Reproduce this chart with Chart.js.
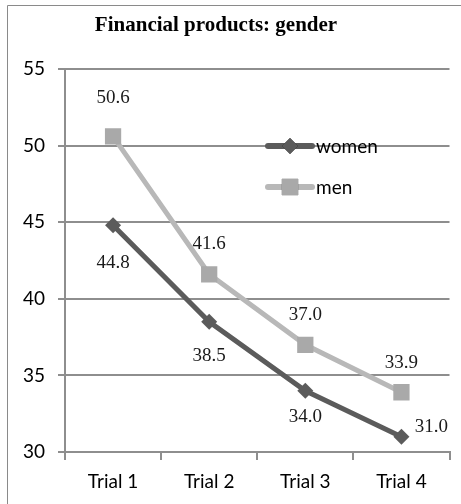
<!DOCTYPE html>
<html>
<head>
<meta charset="utf-8">
<script src="https://cdn.jsdelivr.net/npm/chart.js@4"></script>
<style>
html,body{margin:0;padding:0;background:#fff;}
#wrap{position:relative;width:461px;height:504px;}
</style>
</head>
<body>
<div id="wrap"><canvas id="c" width="461" height="504"></canvas></div>
<script>
const titleText = "Financial products: gender";
const categories = ["Trial 1", "Trial 2", "Trial 3", "Trial 4"];
const seriesNames = ["women", "men"];
const womenValues = [44.8, 38.5, 34.0, 31.0];
const menValues = [50.6, 41.6, 37.0, 33.9];
const yTicks = [30, 35, 40, 45, 50, 55];

const SANS = "Lato, 'Open Sans', sans-serif";
const SERIF = "'Liberation Serif', 'Times New Roman', serif";

// label offsets (presentation only)
const labelOffsets = {
  0: [[0, 38], [0, 34], [0, 26], [30, -10]],
  1: [[0, -38], [0, -30], [0, -30], [0, -29]]
};

const decor = {
  id: 'decor',
  beforeDraw(chart) {
    const ctx = chart.ctx;
    ctx.save();
    ctx.strokeStyle = '#8a8a8a';
    ctx.lineWidth = 1;
    ctx.beginPath();
    ctx.moveTo(7.5, 504);
    ctx.lineTo(7.5, 5.5);
    ctx.lineTo(461, 5.5);
    ctx.stroke();
    ctx.fillStyle = '#000';
    ctx.font = "bold 21px " + SERIF;
    ctx.textAlign = 'center';
    ctx.textBaseline = 'middle';
    ctx.fillText(titleText, 216, 26);
    ctx.restore();
  },
  afterDatasetsDraw(chart) {
    const ctx = chart.ctx;
    ctx.save();
    // data labels
    ctx.font = "19px " + SERIF;
    ctx.fillStyle = '#1a1a1a';
    ctx.textAlign = 'center';
    ctx.textBaseline = 'middle';
    chart.data.datasets.forEach((ds, di) => {
      const meta = chart.getDatasetMeta(di);
      meta.data.forEach((pt, i) => {
        const off = labelOffsets[di][i];
        ctx.fillText(ds.data[i].toFixed(1), pt.x + off[0], pt.y + off[1]);
      });
    });
    // legend
    const lx0 = 268, lx1 = 312, mx = 290;
    const ly = [146, 187];
    chart.data.datasets.forEach((ds, di) => {
      const y = ly[di];
      ctx.strokeStyle = ds.borderColor;
      ctx.lineWidth = 6;
      ctx.lineCap = 'round';
      ctx.beginPath();
      ctx.moveTo(lx0, y);
      ctx.lineTo(lx1, y);
      ctx.stroke();
      Chart.helpers.drawPoint(ctx, {
        pointStyle: ds.pointStyle,
        radius: ds.pointRadius,
        borderWidth: 0
      }, mx, y);
      ctx.fillStyle = ds.pointBackgroundColor;
      ctx.fill();
      ctx.fillStyle = '#000';
      ctx.font = "19px " + SANS;
      ctx.textAlign = 'left';
      ctx.fillText(ds.label, 316, y + 1);
    });
    ctx.restore();
  }
};

new Chart(document.getElementById('c'), {
  type: 'line',
  data: {
    labels: categories,
    datasets: [
      {
        label: seriesNames[0],
        data: womenValues,
        borderColor: '#5b5b5b',
        backgroundColor: '#5b5b5b',
        pointBackgroundColor: '#5b5b5b',
        pointBorderWidth: 0,
        borderWidth: 5,
        pointStyle: 'rectRot',
        pointRadius: 8,
        tension: 0
      },
      {
        label: seriesNames[1],
        data: menValues,
        borderColor: '#b8b8b8',
        backgroundColor: '#a9a9a9',
        pointBackgroundColor: '#a9a9a9',
        pointBorderWidth: 0,
        borderWidth: 5,
        pointStyle: 'rect',
        pointRadius: 11.5,
        tension: 0
      }
    ]
  },
  options: {
    responsive: false,
    animation: false,
    devicePixelRatio: 1,
    layout: { padding: { top: 69, right: 9, left: 0, bottom: 0 } },
    plugins: { legend: { display: false }, title: { display: false }, tooltip: { enabled: false } },
    scales: {
      x: {
        offset: true,
        afterFit(s) { s.height = 52; },
        grid: { offset: true, drawOnChartArea: false, drawTicks: true, tickLength: 8, color: '#8e8e8e', lineWidth: 2 },
        border: { display: true, color: '#8e8e8e', width: 2 },
        ticks: { color: '#000', font: { family: SANS, size: 19 }, padding: 10 }
      },
      y: {
        min: 30, max: 55,
        afterFit(s) { s.width = 65; },
        afterBuildTicks(s) { s.ticks = yTicks.map(v => ({ value: v })); },
        grid: { color: '#8e8e8e', lineWidth: 2, drawTicks: true, tickLength: 7 },
        border: { display: true, color: '#8e8e8e', width: 2 },
        ticks: { color: '#000', font: { family: SANS, size: 19 }, padding: 13 }
      }
    }
  },
  plugins: [decor]
});
</script>
</body>
</html>
